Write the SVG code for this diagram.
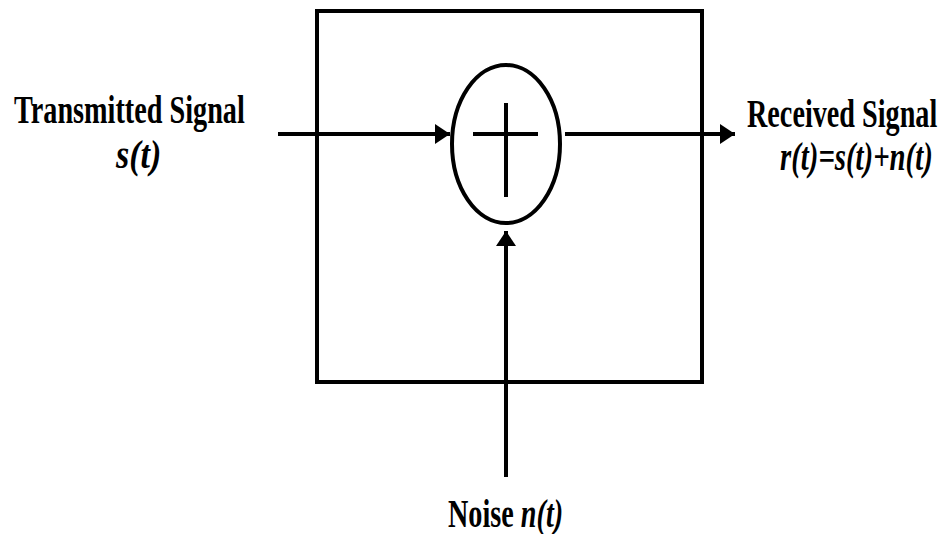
<svg xmlns="http://www.w3.org/2000/svg" width="943" height="534" viewBox="0 0 943 534">
<style>
.ln{stroke:#000;stroke-width:4;fill:none}
.t{font-family:"Liberation Serif","Times New Roman",serif;font-weight:bold;font-size:40px;fill:#000}
.i{font-style:italic}
</style>
<defs>
<marker id="ah" markerUnits="userSpaceOnUse" markerWidth="16" markerHeight="22" refX="15" refY="11" orient="auto">
<path d="M0,1 L15,11 L0,21 Z" fill="#000"/>
</marker>
</defs>
<g id="channel">
<rect x="317" y="11" width="385" height="371" class="ln"/>
</g>
<g id="adder">
<ellipse cx="506" cy="144" rx="54" ry="79" class="ln" stroke-width="3.5"/>
<line x1="473" y1="134" x2="538" y2="134" class="ln" stroke-width="3.5"/>
<line x1="506" y1="103" x2="506" y2="197" class="ln" stroke-width="3.5"/>
</g>
<g id="connectors">
<line x1="278" y1="134" x2="450" y2="134" class="ln" marker-end="url(#ah)"/>
<line x1="565" y1="134" x2="735" y2="134" class="ln" marker-end="url(#ah)"/>
<line x1="506" y1="477" x2="506" y2="231" class="ln" marker-end="url(#ah)"/>
</g>
<g id="input">
<text class="t" transform="translate(14,123) scale(0.706,1)">Transmitted Signal</text>
<text class="t i" transform="translate(116,168) scale(0.85,1)">s(t)</text>
</g>
<g id="output">
<text class="t" transform="translate(747,127) scale(0.705,1)">Received Signal</text>
<text class="t i" transform="translate(780,170) scale(0.72,1)">r(t)=s(t)+n(t)</text>
</g>
<g id="noise">
<text class="t" transform="translate(448,527) scale(0.705,1)">Noise <tspan class="i">n(t)</tspan></text>
</g>
</svg>
